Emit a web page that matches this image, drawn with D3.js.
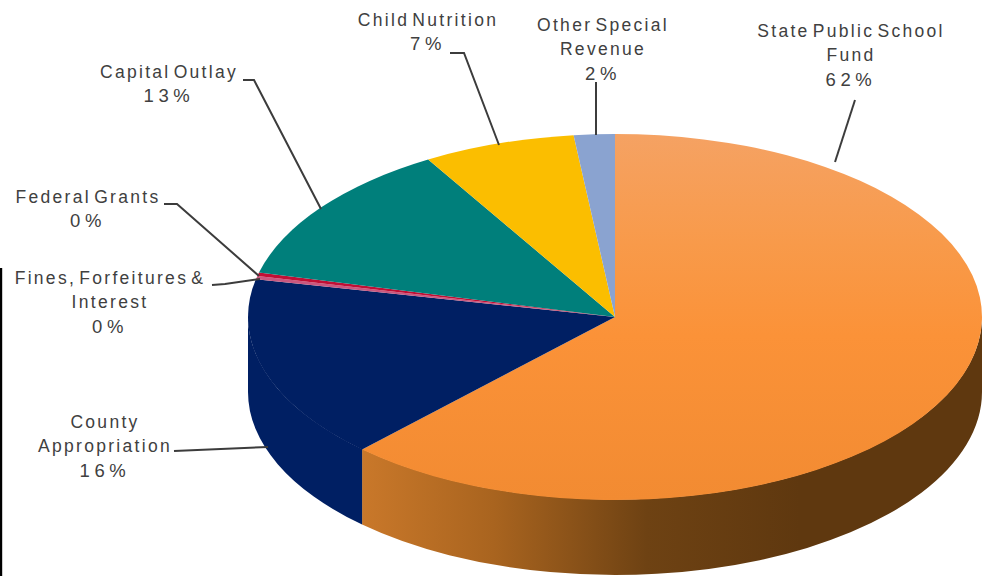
<!DOCTYPE html>
<html>
<head>
<meta charset="utf-8">
<script src="https://cdn.jsdelivr.net/npm/d3@7"></script>
<style>
html,body{margin:0;padding:0;background:#fff;overflow:hidden;}
text{font-family:"Liberation Sans",Arial,sans-serif;font-size:17.5px;letter-spacing:2.3px;word-spacing:-4px;fill:#404040;text-anchor:middle;}
tspan.pct{font-size:18.5px;letter-spacing:4.6px;}
</style>
</head>
<body>
<div id="plot"></div>
<script>
// slice values, clockwise from 12 o'clock (percent)
var categories = ['State Public School Fund','County Appropriation','Fines, Forfeitures & Interest','Federal Grants','Capital Outlay','Child Nutrition','Other Special Revenue'];
var values = [62.1,16.2,0.3,0.3,12.6,6.7,1.8];
var percentLabels = ['62%','16%','0%','0%','13%','7%','2%'];

// how each label wraps on the page
var labelLines = [
	['State Public School','Fund'],
	['County','Appropriation'],
	['Fines, Forfeitures &','Interest'],
	['Federal Grants'],
	['Capital Outlay'],
	['Child Nutrition'],
	['Other Special','Revenue']
];

var colors = ['url(#topOrange)','#001f63','#c9577f','#c00f35','#007f7b','#fbbe00','#8aa3d0'];

// label centre and first baseline
var labelPos = [[851,37],[105,428],[110,284],[88,203],[169,78],[428,26],[603,31]];
// leader lines
var leaders = [
	[[855,100],[835,162]],
	[[174,451],[268,447]],
	[[212,285],[225,284],[260,279]],
	[[164,204],[177,204],[259,276]],
	[[243,80],[254,80],[321,209]],
	[[450,53],[464,53],[499,145]],
	[[596,82],[596,135]]
];

var W = 982, H = 576,
	cx = 615, cy = 317, rx = 367, ry = 183, depth = 75;

var svg = d3.select('#plot').append('svg')
	.attr('width',W)
	.attr('height',H)
	.style('display','block');

var defs = svg.append('defs');

var topOrange = defs.append('linearGradient').attr('id','topOrange')
	.attr('x1',0).attr('y1',0).attr('x2',0).attr('y2',1);
topOrange.append('stop').attr('offset','0%').attr('stop-color','#f5a263');
topOrange.append('stop').attr('offset','30%').attr('stop-color','#f89a4a');
topOrange.append('stop').attr('offset','55%').attr('stop-color','#fb9238');
topOrange.append('stop').attr('offset','100%').attr('stop-color','#f28b32');

var sideOrange = defs.append('linearGradient').attr('id','sideOrange')
	.attr('gradientUnits','userSpaceOnUse')
	.attr('x1',362).attr('y1',0).attr('x2',800).attr('y2',0);
sideOrange.append('stop').attr('offset','0%').attr('stop-color','#c9782a');
sideOrange.append('stop').attr('offset','30%').attr('stop-color','#a9641f');
sideOrange.append('stop').attr('offset','65%').attr('stop-color','#6e4213');
sideOrange.append('stop').attr('offset','100%').attr('stop-color','#5f380f');

var pie = d3.pie().sort(null).value(function(d){return d;});
var slices = pie(values);
var arc = d3.arc().innerRadius(0).outerRadius(rx);

// point on the top ellipse, a = clockwise from 12 o'clock
function edge(a){
	return [cx + rx*Math.sin(a), cy - ry*Math.cos(a)];
}

// the wall, only where the rim faces front
var sideColors = ['url(#sideOrange)','#001f63'];
svg.append('g').selectAll('path')
	.data(slices.filter(function(d){
		return d.startAngle < Math.PI*1.5 && d.endAngle > Math.PI/2;
	}))
	.enter().append('path')
	.attr('fill',function(d,i){return sideColors[i] || colors[d.index];})
	.attr('d',function(d){
		var a0 = Math.max(d.startAngle,Math.PI/2),
			a1 = Math.min(d.endAngle,Math.PI*1.5),
			p0 = edge(a0), p1 = edge(a1);
		// pull the wall up a little under the top face so no seam shows
		return 'M'+p0[0]+','+(p0[1]-0.5)+' A'+rx+','+ry+' 0 0 1 '+p1[0]+','+(p1[1]-0.5)+
			' L'+p1[0]+','+(p1[1]+depth)+
			' A'+rx+','+ry+' 0 0 0 '+p0[0]+','+(p0[1]+depth)+'Z';
	});

// top face
svg.append('g')
	.attr('transform','translate('+cx+','+cy+') scale(1,'+(ry/rx)+')')
	.selectAll('path')
	.data(slices)
	.enter().append('path')
	.attr('d',arc)
	.attr('fill',function(d){return colors[d.index];});

// leaders
var line = d3.line();
svg.append('g').selectAll('path')
	.data(leaders)
	.enter().append('path')
	.attr('d',line)
	.attr('fill','none')
	.attr('stroke','#3c3c3c')
	.attr('stroke-width',2);

// labels
var lh = 24.4;
var labels = svg.append('g').selectAll('text')
	.data(categories)
	.enter().append('text');

labels.each(function(d,i){
	var t = d3.select(this), lines = labelLines[i];
	lines.forEach(function(s,j){
		t.append('tspan')
			.attr('x',labelPos[i][0])
			.attr('y',labelPos[i][1]+j*lh)
			.text(s);
	});
	t.append('tspan')
		.attr('class','pct')
		.attr('x',labelPos[i][0])
		.attr('y',labelPos[i][1]+lines.length*lh)
		.text(percentLabels[i]);
});

// black rule on the left edge, part of the original scan
svg.append('line')
	.attr('x1',1).attr('x2',1)
	.attr('y1',268).attr('y2',H)
	.attr('stroke','#000')
	.attr('stroke-width',2.4);
</script>
</body>
</html>
